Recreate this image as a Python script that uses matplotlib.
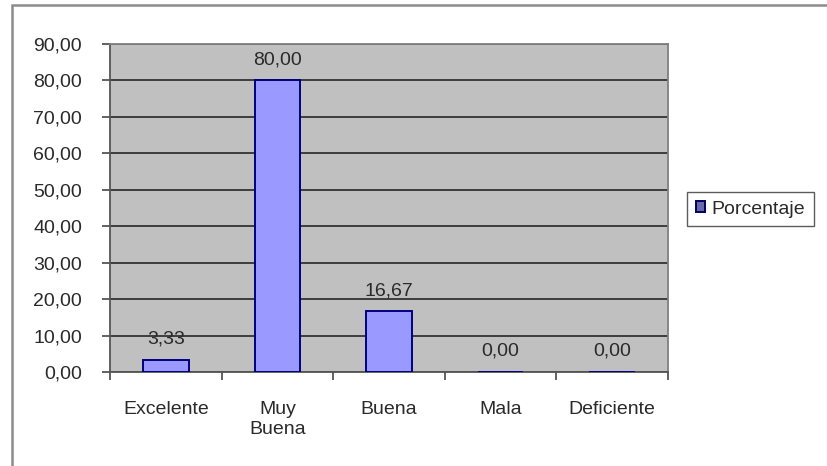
import matplotlib.pyplot as plt
from matplotlib.patches import Rectangle
from matplotlib.ticker import FuncFormatter, FixedLocator
import numpy as np

plt.rcParams['font.family'] = ['Liberation Sans', 'DejaVu Sans']

categorias = ['Excelente', 'Muy\nBuena', 'Buena', 'Mala', 'Deficiente']
porcentaje = [3.33, 80.00, 16.67, 0.00, 0.00]

def coma(v, pos=None):
    return f'{v:.2f}'.replace('.', ',')

fs = 14
txt = '#2a2a2a'

fig = plt.figure(figsize=(8.27, 4.66), dpi=100)
# marco exterior del grafico
fig.patches.append(Rectangle((12 / 827, -0.1), 1.0, 1 - 5 / 466 + 0.1,
                             transform=fig.transFigure, fill=False,
                             edgecolor='#8c8c8c', linewidth=1.8))

ax = fig.add_axes([110 / 827, 1 - 372 / 466, 558 / 827, 328 / 466])
ax.set_facecolor('#c0c0c0')

x = np.arange(len(categorias))
ax.bar(x, porcentaje, width=0.41, color='#9999ff', edgecolor='#000080',
       linewidth=1.4, zorder=3)
for xi, v in zip(x, porcentaje):
    ax.text(xi, v + 3.3, coma(v), ha='center', va='bottom', fontsize=fs,
            color=txt, zorder=4)

ax.set_xlim(-0.5, len(categorias) - 0.5)
ax.set_ylim(0, 90)
ax.set_yticks(np.arange(0, 91, 10))
ax.yaxis.set_major_formatter(FuncFormatter(coma))
ax.grid(axis='y', color='#1a1a1a', linewidth=1.1, zorder=1)

ax.set_xticks(x)
ax.set_xticklabels(categorias, fontsize=fs, color=txt, linespacing=1.25)
ax.tick_params(axis='x', length=0, pad=21)
ax.xaxis.set_minor_locator(FixedLocator(np.arange(-0.5, len(categorias), 1)))
ax.tick_params(axis='x', which='minor', length=6, color='#555555', width=1.3)
ax.tick_params(axis='y', length=6, color='#555555', width=1.3,
               labelsize=fs, labelcolor=txt, pad=14)

for s in ['top', 'right']:
    ax.spines[s].set_color('#808080')
    ax.spines[s].set_linewidth(1.3)
for s in ['left', 'bottom']:
    ax.spines[s].set_color('#555555')
    ax.spines[s].set_linewidth(1.3)

leg = ax.legend(['Porcentaje'], loc='center left',
                bbox_to_anchor=(687 / 827, 1 - 209 / 466),
                bbox_transform=fig.transFigure, fontsize=fs, frameon=True,
                fancybox=False, handlelength=0.5, handleheight=0.5,
                handletextpad=0.3, borderpad=0.45, borderaxespad=0)
leg.get_frame().set_edgecolor('#333333')
leg.get_frame().set_linewidth(1.0)
for t in leg.get_texts():
    t.set_color(txt)
for h in leg.legend_handles:
    h.set_facecolor('#6a6aa8')
    h.set_edgecolor('#000060')

fig.savefig('out.png', dpi=100)
